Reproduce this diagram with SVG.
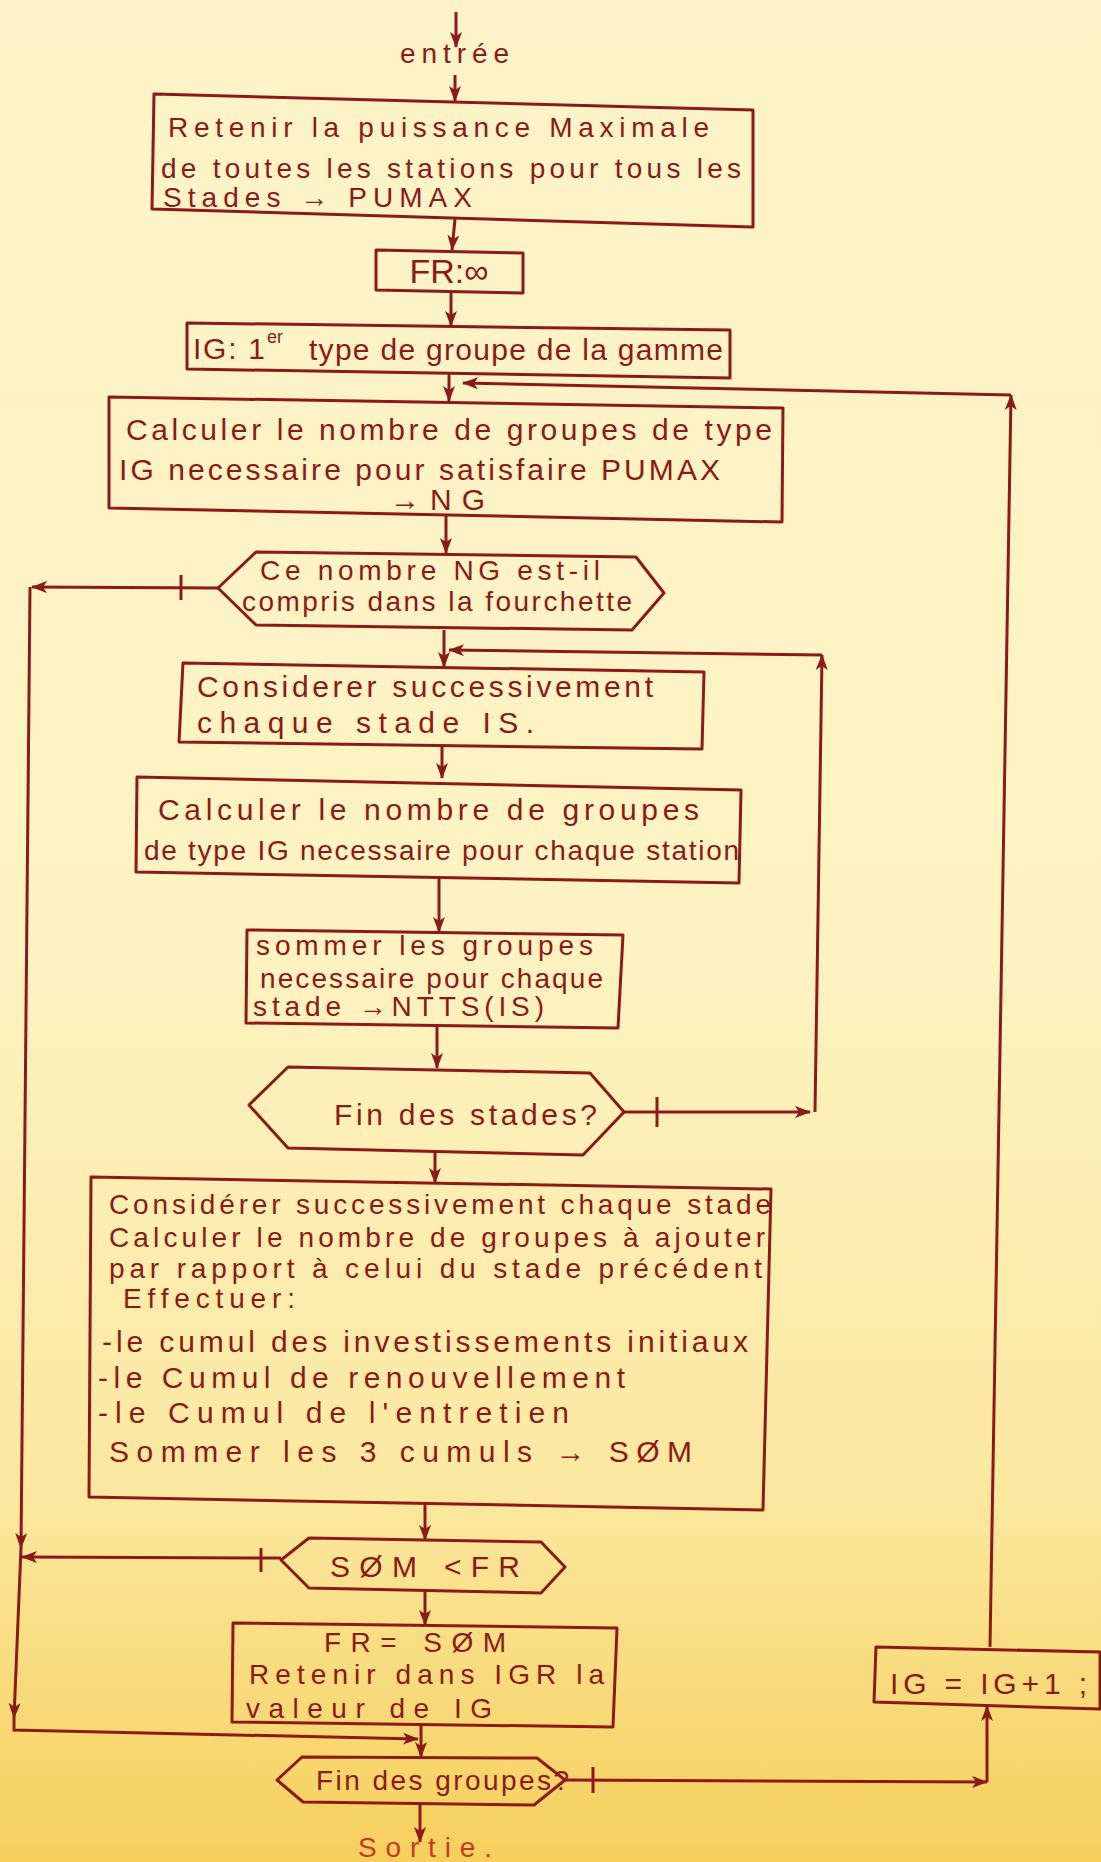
<svg xmlns="http://www.w3.org/2000/svg" width="1101" height="1862" viewBox="0 0 1101 1862">
<defs>
<linearGradient id="paper" x1="0" y1="0" x2="0" y2="1">
<stop offset="0" stop-color="#fcf3c8"/>
<stop offset="0.5" stop-color="#fdf3c2"/>
<stop offset="0.8" stop-color="#fbe8a0"/>
<stop offset="1" stop-color="#f6cf5c"/>
</linearGradient>
<marker id="ah" viewBox="0 0 16 12" refX="15" refY="6" markerWidth="16" markerHeight="12" markerUnits="userSpaceOnUse" orient="auto">
<path d="M0,0 L16,6 L0,12 L4,6 Z" fill="#8b1a1a"/>
</marker>
<style>
.n{fill:none;stroke:#8b1a1a;stroke-width:3;stroke-linejoin:round}
.c{fill:none;stroke:#8b1a1a;stroke-width:3}
.a{marker-end:url(#ah)}
.t{font-family:"Liberation Sans",Arial,sans-serif;font-size:28px;fill:#8b1a1a}
.b{font-size:30px}
.m{font-size:28px}
.s{font-size:18px}
.out{fill:#c23a2a}
</style>
</defs>
<rect width="1101" height="1862" fill="url(#paper)"/>

<g id="connectors">
<path class="c a" d="M456,12 L456,47"/>
<path class="c a" d="M455,75 L455,101"/>
<path class="c a" d="M455,219 L452,250"/>
<path class="c a" d="M451,293 L451,326"/>
<path class="c a" d="M449,373 L449,401"/>
<path class="c a" d="M990,1647 L1011,395"/>
<path class="c a" d="M1011,395 L463,383"/>
<path class="c a" d="M446,515 L446,553"/>
<path class="c a" d="M218,588 L32,587"/>
<path class="c" d="M181,575 L181,600"/>
<path class="c a" d="M30,587 L21,1548"/>
<path class="c a" d="M21,1548 L14,1718"/>
<path class="c a" d="M14,1718 L14,1730 L418,1739"/>
<path class="c a" d="M444,630 L444,667"/>
<path class="c a" d="M815,1112 L822,655"/>
<path class="c a" d="M822,655 L449,650"/>
<path class="c a" d="M442,746 L442,778"/>
<path class="c a" d="M439,877 L439,932"/>
<path class="c a" d="M437,1026 L437,1068"/>
<path class="c a" d="M624,1112 L810,1112"/>
<path class="c" d="M657,1097 L657,1127"/>
<path class="c a" d="M435,1152 L435,1183"/>
<path class="c a" d="M425,1504 L425,1540"/>
<path class="c a" d="M281,1558 L22,1557"/>
<path class="c" d="M261,1548 L261,1572"/>
<path class="c a" d="M425,1591 L425,1625"/>
<path class="c a" d="M421,1725 L421,1757"/>
<path class="c a" d="M565,1780 L987,1782"/>
<path class="c" d="M593,1767 L593,1793"/>
<path class="c a" d="M987,1782 L987,1706"/>
<path class="c a" d="M420,1804 L420,1842"/>
</g>

<g id="entree">
<text class="t" x="400" y="63" textLength="109">entrée</text>
</g>

<g id="n1">
<polygon class="n" points="154,94 753,110 753,227 152,209"/>
<text class="t m" x="168" y="137" textLength="541">Retenir la puissance Maximale</text>
<text class="t m" x="161" y="178" textLength="580">de toutes les stations pour tous les</text>
<text class="t m" x="163" y="207" textLength="309">Stades → PUMAX</text>
</g>

<g id="n2">
<polygon class="n" points="376,250 523,253 523,293 376,290"/>
<text class="t" x="449" y="283" text-anchor="middle" style="font-size:34px">FR:∞</text>
</g>

<g id="n3">
<polygon class="n" points="187,323 730,330 730,378 187,369"/>
<text class="t b" x="193" y="359" textLength="72">IG: 1</text>
<text class="t s" x="267" y="343">er</text>
<text class="t b" x="309" y="360" textLength="414">type de groupe de la gamme</text>
</g>

<g id="n4">
<polygon class="n" points="109,397 783,408 782,522 109,508"/>
<text class="t b" x="126" y="440" textLength="646">Calculer le nombre de groupes de type</text>
<text class="t b" x="119" y="480" textLength="601">IG necessaire pour satisfaire PUMAX</text>
<text class="t b" x="390" y="510" textLength="95">→NG</text>
</g>

<g id="n5">
<polygon class="n" points="218,588 256,552 636,557 664,593 632,630 256,625"/>
<text class="t" x="260" y="580" textLength="340">Ce nombre NG est-il</text>
<text class="t" x="242" y="611" textLength="390">compris dans la fourchette</text>
</g>

<g id="n6">
<polygon class="n" points="183,663 704,672 702,749 179,742"/>
<text class="t b" x="197" y="697" textLength="456">Considerer successivement</text>
<text class="t b" x="197" y="733" textLength="337">chaque stade IS.</text>
</g>

<g id="n7">
<polygon class="n" points="137,777 741,790 739,883 136,872"/>
<text class="t b" x="158" y="820" textLength="541">Calculer le nombre de groupes</text>
<text class="t" x="144" y="860" textLength="595">de type IG necessaire pour chaque station</text>
</g>

<g id="n8">
<polygon class="n" points="247,930 623,935 618,1028 246,1023"/>
<text class="t" x="256" y="955" textLength="337">sommer les groupes</text>
<text class="t" x="260" y="988" textLength="343">necessaire pour chaque</text>
<text class="t" x="253" y="1016" textLength="291">stade →NTTS(IS)</text>
</g>

<g id="n9">
<polygon class="n" points="249,1105 288,1067 590,1073 624,1112 583,1155 288,1148"/>
<text class="t b" x="334" y="1125" textLength="263">Fin des stades?</text>
</g>

<g id="n10">
<polygon class="n" points="91,1177 771,1189 763,1510 89,1497"/>
<text class="t" x="109" y="1214" textLength="662">Considérer successivement chaque stade</text>
<text class="t" x="109" y="1247" textLength="656">Calculer le nombre de groupes à ajouter</text>
<text class="t" x="109" y="1278" textLength="653">par rapport à celui du stade précédent</text>
<text class="t" x="123" y="1308" textLength="172">Effectuer:</text>
<text class="t b" x="102" y="1352" textLength="646">-le cumul des investissements initiaux</text>
<text class="t b" x="98" y="1388" textLength="527">-le Cumul de renouvellement</text>
<text class="t b" x="98" y="1423" textLength="471">-le Cumul de l'entretien</text>
<text class="t b" x="109" y="1462" textLength="583">Sommer les 3 cumuls → SØM</text>
</g>

<g id="n11">
<polygon class="n" points="281,1560 309,1538 541,1542 565,1567 541,1593 309,1588"/>
<text class="t b" x="330" y="1577" textLength="190">SØM &lt;FR</text>
</g>

<g id="n12">
<polygon class="n" points="233,1623 617,1628 613,1727 232,1722"/>
<text class="t" x="324" y="1652" textLength="182">FR= SØM</text>
<text class="t" x="249" y="1684" textLength="355">Retenir dans IGR la</text>
<text class="t" x="246" y="1718" textLength="246">valeur de IG</text>
</g>

<g id="n13">
<polygon class="n" points="277,1780 302,1757 537,1758 565,1780 534,1805 303,1802"/>
<text class="t" x="316" y="1790" textLength="253">Fin des groupes?</text>
</g>

<g id="n14">
<polygon class="n" points="876,1647 1100,1652 1100,1709 874,1702"/>
<text class="t b" x="890" y="1694" textLength="197">IG = IG+1 ;</text>
</g>

<g id="sortie">
<text class="t out" x="358" y="1857" textLength="134">Sortie.</text>
</g>
</svg>
